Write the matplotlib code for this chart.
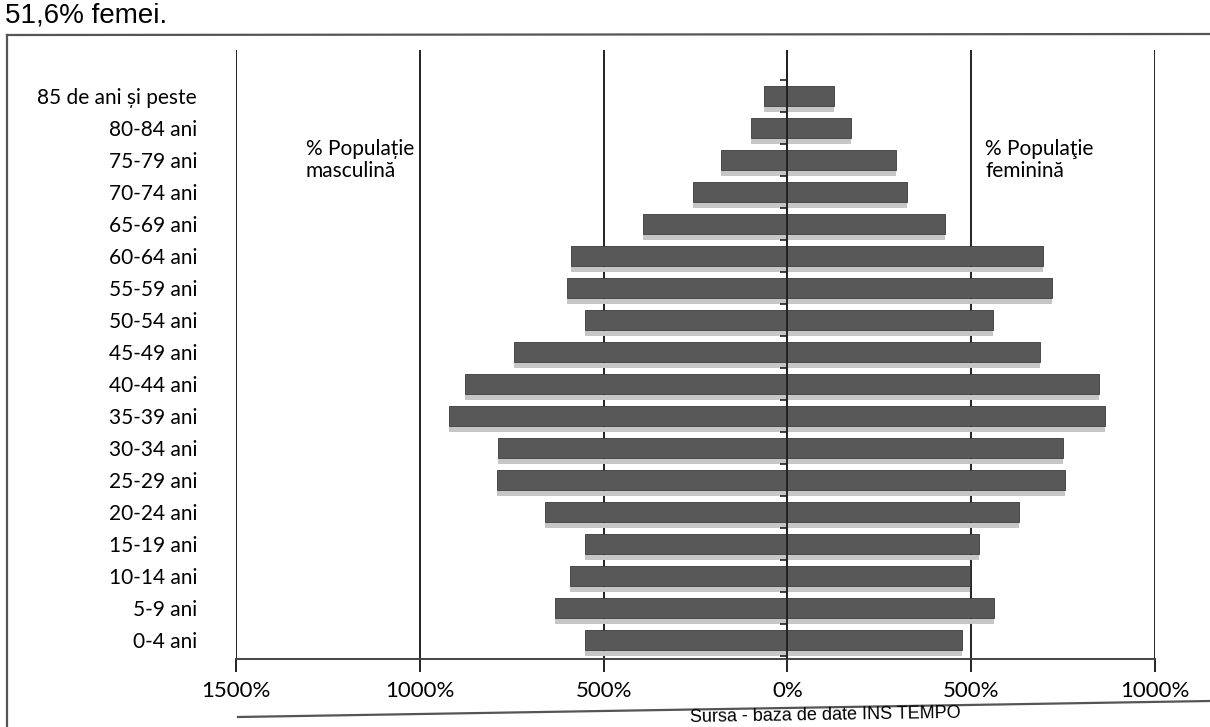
import numpy as np
import matplotlib.pyplot as plt
from matplotlib.lines import Line2D

# grupe de varsta, de jos in sus
grupe = ["0-4 ani", "5-9 ani", "10-14 ani", "15-19 ani", "20-24 ani", "25-29 ani",
         "30-34 ani", "35-39 ani", "40-44 ani", "45-49 ani", "50-54 ani", "55-59 ani",
         "60-64 ani", "65-69 ani", "70-74 ani", "75-79 ani", "80-84 ani", "85 de ani și peste"]
barbati = [551, 632, 592, 551, 659, 791, 788, 920, 877, 745, 551, 600, 589, 393, 256, 180, 100, 65]
femei = [476, 562, 497, 522, 629, 755, 750, 863, 847, 688, 559, 720, 696, 430, 325, 296, 172, 126]
valori_x = [-1500, -1000, -500, 0, 500, 1000]
etichete_x = ["1500%", "1000%", "500%", "0%", "500%", "1000%"]

W, H = 1210, 727
fonturi = ["Lato", "DejaVu Sans"]

fig = plt.figure(figsize=(W / 100, H / 100), dpi=100)
ax = fig.add_axes([236 / W, 1 - 659 / H, (1155 - 236) / W, (659 - 50) / H])

y = np.arange(len(grupe))
b = -np.array(barbati)
f = np.array(femei)

# umbra deschisa sub fiecare bara
ax.barh(y - 0.42, b, height=0.17, color="#c6c6c6", zorder=2)
ax.barh(y - 0.42, f, height=0.17, color="#c6c6c6", zorder=2)
ax.barh(y, b, height=0.62, color="#585858", edgecolor="#3a3a3a", lw=0.6, zorder=3)
ax.barh(y, f, height=0.62, color="#585858", edgecolor="#3a3a3a", lw=0.6, zorder=3)

# axa centrala cu gradatii intre categorii
ax.axvline(0, color="#222222", lw=1.4, zorder=4)
ax.plot(np.zeros(len(grupe) + 1), np.arange(len(grupe) + 1) - 0.5, ls="none",
        marker=0, ms=5, mew=1.2, color="#222222", zorder=4)

ax.set_xlim(-1500, 1000)
ax.set_ylim(-0.6, 18.45)
ax.set_xticks(valori_x)
ax.set_xticklabels(etichete_x, fontsize=16, family=fonturi)
ax.set_yticks(y)
ax.set_yticklabels(grupe, fontsize=15, family=fonturi)
ax.tick_params(axis="y", length=0, pad=28)
ax.tick_params(axis="x", length=9, width=1.4, direction="out", pad=7, color="#222222")
ax.grid(axis="x", color="#222222", lw=1.4, zorder=1)
for s in ["top", "right", "left"]:
    ax.spines[s].set_visible(False)
ax.spines["bottom"].set_linewidth(1.4)
ax.spines["bottom"].set_color("#444444")

ax.text(-1310, 15.0, "% Populație\nmasculină", fontsize=15, family=fonturi,
        va="center", ha="left", linespacing=1.15, zorder=5)
ax.text(538, 15.0, "% Populaţie\nfeminină", fontsize=15, family=fonturi,
        va="center", ha="left", linespacing=1.15, zorder=5)

# text din document si chenarul graficului
fig.text(5 / W, 1 - 2 / H, "51,6% femei.", fontsize=20, family="Liberation Sans",
         va="top", ha="left")
fig.add_artist(Line2D([7 / W, 1], [1 - 35 / H, 1 - 34 / H], color="#555555", lw=1.6,
                      transform=fig.transFigure))
fig.add_artist(Line2D([7 / W, 7 / W], [1 - 35 / H, 0], color="#555555", lw=1.6,
                      transform=fig.transFigure))
fig.add_artist(Line2D([238 / W, 1], [1 - 717 / H, 1 - 701 / H], color="#555555", lw=1.6,
                      transform=fig.transFigure))
fig.text(825 / W, 1 - 726 / H, "Sursa - baza de date INS TEMPO", fontsize=13,
         family="Liberation Sans", va="bottom", ha="center", rotation=0.9)

fig.savefig("out.png", dpi=100)
